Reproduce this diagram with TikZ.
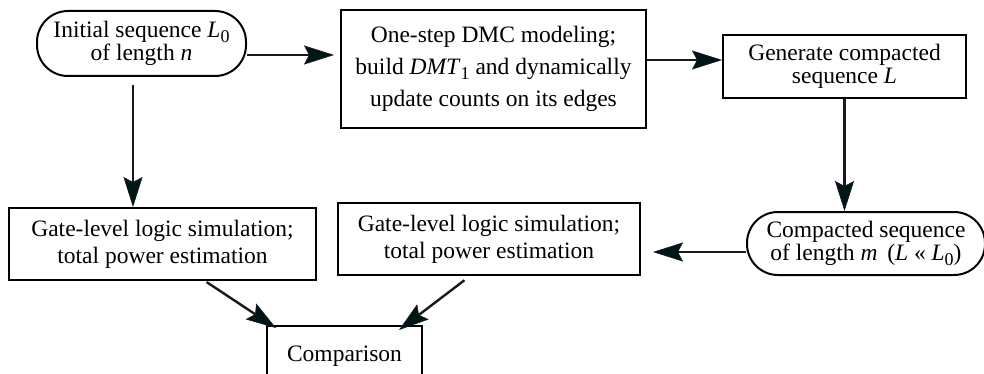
\documentclass[tikz,border=0pt]{standalone}
\usepackage{fontspec}
\setmainfont{Liberation Serif}
\usetikzlibrary{arrows.meta}
% lowered subscript sized for the large body text
\newcommand\lowsub[1]{\raisebox{-0.45ex}{\fontsize{18}{18}\selectfont #1}}
\begin{document}
\begin{tikzpicture}[x=1pt,y=-1pt,
  box/.style={draw, line width=2pt, rectangle, inner sep=0pt, align=center},
  pill/.style={box, rounded corners=31pt},
  txt/.style={font=\fontsize{23.5}{#1}\selectfont},
  flow/.style={line width=2.4pt, draw=black!90,
    -{Stealth[length=30pt,width=19pt,inset=5pt,line width=0.5pt,fill=black!75!teal!70!black]}}]
\useasboundingbox (0,0) rectangle (984,374);

\node[pill, txt=20, minimum width=209pt, minimum height=65pt] (init) at (141.5,43.5)
  {Initial sequence \textit{L}\lowsub{0}\\of length \textit{n}};
\node[box, txt=32, minimum width=305pt, minimum height=118pt] (dmc) at (493.5,69)
  {One-step DMC modeling;\\build \textit{DMT}\lowsub{1} and dynamically\\update counts on its edges};
\node[box, txt=22.5, minimum width=243pt, minimum height=63pt] (gen) at (844.5,66.5)
  {Generate compacted\\sequence \textit{L}};
\node[pill, txt=23, minimum width=238pt, minimum height=63pt] (comp) at (866,243.5)
  {Compacted sequence\\of length \textit{m}\, (\textit{L} « \textit{L}\lowsub{0})};
\node[box, txt=27, minimum width=307pt, minimum height=72pt] (gl) at (162.5,244)
  {Gate-level logic simulation;\\total power estimation};
\node[box, txt=27, minimum width=302pt, minimum height=72pt] (gm) at (489,239)
  {Gate-level logic simulation;\\total power estimation};
\node[box, txt=27, anchor=north, minimum width=155pt, inner ysep=19pt,
  text height=16pt, text depth=30pt] (cmp) at (344.5,325) {Comparison};

\draw[flow, shorten >=6pt] ([yshift=-11.5pt]init.east) -- ([yshift=-11.5pt]init.east -| dmc.west);
\draw[flow] ([yshift=9pt]dmc.east) -- ([yshift=9pt]dmc.east -| gen.west);
\draw[flow] (gen.south) -- (gen.south |- comp.north);
\draw[flow, shorten <=8pt] ([xshift=-8.5pt]init.south) -- ([xshift=-8.5pt]init.south |- gl.north);
\draw[flow, shorten >=12pt] ([yshift=-8.5pt]comp.west) -- ([yshift=-8.5pt]comp.west -| gm.east);
\draw[flow, shorten <=2pt] ([xshift=42.5pt]gl.south) -- ([xshift=10pt,yshift=-3pt]cmp.north west);
\draw[flow, shorten <=7pt] ([xshift=-19pt]gm.south) -- ([xshift=-24pt,yshift=-5pt]cmp.north east);
\end{tikzpicture}
\end{document}
